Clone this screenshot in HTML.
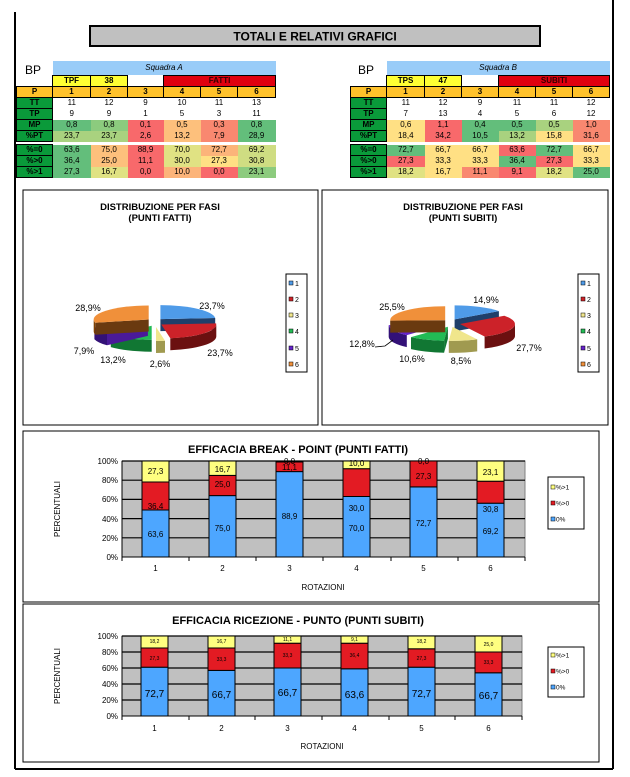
<!DOCTYPE html>
<html><head><meta charset="utf-8">
<style>
body{margin:0;background:#fff;}
#pg{position:relative;width:630px;height:777px;overflow:hidden;font-family:"Liberation Sans",sans-serif;}
table{position:absolute;border-collapse:collapse;table-layout:fixed;font-size:8px;}
td{padding:0;height:10px;line-height:10px;text-align:center;overflow:hidden;white-space:nowrap;}
td.l{background:#0a9a3a;border:1.5px solid #000;font-weight:bold;color:#000;}
td.p{background:#ffc22b;border:1.5px solid #000;font-weight:bold;}
td.y{background:#ffff33;border:1.5px solid #000;font-weight:bold;}
td.r{background:#e0000f;border:1.5px solid #000;font-weight:bold;color:#300;}
td.s{background:#99ccf8;font-style:italic;height:14px;}
.G{background:#63be7b}.g{background:#a9d27f}.lg{background:#cfdd82}.yg{background:#e0e283}.Y{background:#ffe084}.O{background:#fdc07c}.o{background:#fcb47a}.S{background:#f98870}.R{background:#f8696b}.gg{background:#8ccb7e}
.bp{position:absolute;font-size:12px;}
</style></head><body><div id="pg">
<svg width="630" height="777" style="position:absolute;left:0;top:0" font-family="Liberation Sans, sans-serif">
<!-- page border -->
<line x1="15" y1="12" x2="15" y2="769" stroke="#000" stroke-width="2"/>
<line x1="613" y1="0" x2="613" y2="769" stroke="#000" stroke-width="2"/>
<line x1="15" y1="769" x2="613" y2="769" stroke="#000" stroke-width="2"/>
<!-- title -->
<rect x="90" y="26" width="450" height="20" fill="#c0c0c0" stroke="#000" stroke-width="2"/>
<text x="315" y="40.5" font-size="12" font-weight="bold" text-anchor="middle">TOTALI E RELATIVI GRAFICI</text>

<!-- pie panels -->
<rect x="23" y="190" width="295" height="235" fill="#fff" stroke="#000" stroke-width="1"/>
<rect x="322" y="190" width="286" height="235" fill="#fff" stroke="#000" stroke-width="1"/>
<text x="160" y="210" font-size="9.5" font-weight="bold" text-anchor="middle">DISTRIBUZIONE PER FASI</text>
<text x="160" y="221" font-size="9.5" font-weight="bold" text-anchor="middle">(PUNTI FATTI)</text>
<text x="463" y="210" font-size="9.5" font-weight="bold" text-anchor="middle">DISTRIBUZIONE  PER FASI</text>
<text x="463" y="221" font-size="9.5" font-weight="bold" text-anchor="middle">(PUNTI SUBITI)</text>

<!-- left pie -->
<g transform="translate(155,322)">
 <g transform="translate(5.4,-2.9)"><path d="M0,0 L0,-14 L0,-2 L0,10 Z" fill="#1f3f6a"/><path d="M0,0 L54.8,-1.1 L54.8,10.9 L0,12Z" fill="#1f3f6a"/><path d="M0,0 L0,-14 A55,14 0 0 1 54.8,-1.1 Z" fill="#4f9be8"/></g>
 <g transform="translate(6.3,2.5)"><path d="M55,0 A55,14 0 0 1 9,13.8 L9,25.8 A55,14 0 0 0 55,12 Z" fill="#6b1010"/><path d="M0,0 L54.8,-1.1 A55,14 0 0 1 9,13.8 Z" fill="#cc2229"/></g>
 <g transform="translate(1,5)"><path d="M9,13.8 A55,14 0 0 1 0,14 L0,26 A55,14 0 0 0 9,25.8 Z" fill="#a09a50"/><path d="M0,0 L9,13.8 A55,14 0 0 1 0,14 Z" fill="#f0e68c"/><path d="M0,0 L0,14 L0,26 L0,12Z" fill="#c8c070"/></g>
 <g transform="translate(-3.3,3.7)"><path d="M0,14 A55,14 0 0 1 -40.9,9.4 L-40.9,21.4 A55,14 0 0 0 0,26 Z" fill="#117733"/><path d="M0,0 L0,14 A55,14 0 0 1 -40.9,9.4 Z" fill="#22bb55"/><path d="M0,0 L0,14 L0,26 L0,12 Z" fill="#117733"/></g>
 <g transform="translate(-7.1,1.9)"><path d="M-40.9,9.4 A55,14 0 0 1 -53.5,3.3 L-53.5,15.3 A55,14 0 0 0 -40.9,21.4 Z" fill="#331177"/><path d="M0,0 L-40.9,9.4 A55,14 0 0 1 -53.5,3.3 Z" fill="#6622cc"/><path d="M0,0 L-40.9,9.4 L-40.9,21.4 L0,12Z" fill="#4a1a99"/></g>
 <g transform="translate(-6.3,-2.5)"><path d="M-53.5,3.3 A55,14 0 0 1 -55,0 L-55,12 A55,14 0 0 0 -53.5,15.3 Z" fill="#804000"/><path d="M0,0 L-53.5,3.3 L-53.5,15.3 L0,12Z" fill="#6a3a10"/><path d="M0,0 L-53.5,3.3 A55,14 0 0 1 0,-14 Z" fill="#f0903a"/></g>
</g>
<g font-size="9" text-anchor="middle">
<text x="88" y="311">28,9%</text><text x="212" y="309">23,7%</text><text x="220" y="356">23,7%</text>
<text x="160" y="367">2,6%</text><text x="113" y="363">13,2%</text><text x="84" y="354">7,9%</text>
</g>
<!-- right pie -->
<g transform="translate(451,323)">
 <g transform="translate(3.6,-3.6)"><path d="M0,0 L44.3,-8.3 L44.3,3.7 L0,12Z" fill="#1f3f6a"/><path d="M0,0 L0,-14 A55,14 0 0 1 44.3,-8.3 Z" fill="#4f9be8"/></g>
 <g transform="translate(9,1)"><path d="M55,0 A55,14 0 0 1 24.6,12.5 L24.6,24.5 A55,14 0 0 0 55,12 Z" fill="#6b1010"/><path d="M0,0 L44.3,-8.3 A55,14 0 0 1 24.6,12.5 Z" fill="#cc2229"/></g>
 <g transform="translate(1.6,3.9)"><path d="M24.6,12.5 A55,14 0 0 1 -3.8,14 L-3.8,26 A55,14 0 0 0 24.6,24.5 Z" fill="#a09a50"/><path d="M0,0 L24.6,12.5 A55,14 0 0 1 -3.8,14 Z" fill="#f0e68c"/></g>
 <g transform="translate(-3.1,3.7)"><path d="M-3.8,14 A55,14 0 0 1 -36.9,10.4 L-36.9,22.4 A55,14 0 0 0 -3.8,26 Z" fill="#117733"/><path d="M0,0 L-3.8,14 A55,14 0 0 1 -36.9,10.4 Z" fill="#22bb55"/><path d="M0,0 L-3.8,14 L-3.8,26 L0,12Z" fill="#117733"/></g>
 <g transform="translate(-7.3,1.7)"><path d="M-36.9,10.4 A55,14 0 0 1 -55,0.4 L-55,12.4 A55,14 0 0 0 -36.9,22.4 Z" fill="#331177"/><path d="M0,0 L-36.9,10.4 A55,14 0 0 1 -55,0.4 Z" fill="#6622cc"/></g>
 <g transform="translate(-5.8,-2.8)"><path d="M0,0 L-55,0.4 L-55,12.4 L0,12Z" fill="#6a3a10"/><path d="M0,0 L-55,0.4 A55,14 0 0 1 0,-14 Z" fill="#f0903a"/></g>
</g>
<g font-size="9" text-anchor="middle">
<text x="486" y="303">14,9%</text><text x="392" y="310">25,5%</text><text x="362" y="347">12,8%</text>
<text x="412" y="362">10,6%</text><text x="461" y="364">8,5%</text><text x="529" y="351">27,7%</text>
</g>
<polyline points="375,347 385,346 393,340" fill="none" stroke="#000" stroke-width="0.8"/>
<!-- pie legends -->
<g font-size="7">
<rect x="286" y="274" width="21" height="98" fill="#fff" stroke="#000"/>
<rect x="289" y="281" width="4" height="4" fill="#4f9be8" stroke="#000" stroke-width=".5"/><text x="295" y="286">1</text>
<rect x="289" y="297" width="4" height="4" fill="#cc2229" stroke="#000" stroke-width=".5"/><text x="295" y="302">2</text>
<rect x="289" y="313" width="4" height="4" fill="#f0e68c" stroke="#000" stroke-width=".5"/><text x="295" y="318">3</text>
<rect x="289" y="329" width="4" height="4" fill="#22bb55" stroke="#000" stroke-width=".5"/><text x="295" y="334">4</text>
<rect x="289" y="346" width="4" height="4" fill="#6622cc" stroke="#000" stroke-width=".5"/><text x="295" y="351">5</text>
<rect x="289" y="362" width="4" height="4" fill="#f0903a" stroke="#000" stroke-width=".5"/><text x="295" y="367">6</text>
<rect x="578" y="274" width="21" height="98" fill="#fff" stroke="#000"/>
<rect x="581" y="281" width="4" height="4" fill="#4f9be8" stroke="#000" stroke-width=".5"/><text x="587" y="286">1</text>
<rect x="581" y="297" width="4" height="4" fill="#cc2229" stroke="#000" stroke-width=".5"/><text x="587" y="302">2</text>
<rect x="581" y="313" width="4" height="4" fill="#f0e68c" stroke="#000" stroke-width=".5"/><text x="587" y="318">3</text>
<rect x="581" y="329" width="4" height="4" fill="#22bb55" stroke="#000" stroke-width=".5"/><text x="587" y="334">4</text>
<rect x="581" y="346" width="4" height="4" fill="#6622cc" stroke="#000" stroke-width=".5"/><text x="587" y="351">5</text>
<rect x="581" y="362" width="4" height="4" fill="#f0903a" stroke="#000" stroke-width=".5"/><text x="587" y="367">6</text>
</g>

<!-- BAR CHART 1 -->
<rect x="23" y="431" width="576" height="171" fill="#fff" stroke="#000"/>
<text x="298" y="453" font-size="11" font-weight="bold" text-anchor="middle">EFFICACIA BREAK - POINT (PUNTI FATTI)</text>
<rect x="122" y="461" width="403" height="96" fill="#c0c0c0" stroke="#808080"/>
<g stroke="#000" stroke-width="1.2"><line x1="122" y1="461" x2="525" y2="461"/><line x1="122" y1="480.2" x2="525" y2="480.2"/><line x1="122" y1="499.4" x2="525" y2="499.4"/><line x1="122" y1="518.6" x2="525" y2="518.6"/><line x1="122" y1="537.8" x2="525" y2="537.8"/></g>
<line x1="122" y1="557" x2="525" y2="557" stroke="#000"/><line x1="122" y1="461" x2="122" y2="557" stroke="#000"/>
<g stroke="#000"><line x1="122" y1="557" x2="122" y2="561"/><line x1="189" y1="557" x2="189" y2="561"/><line x1="256" y1="557" x2="256" y2="561"/><line x1="323" y1="557" x2="323" y2="561"/><line x1="391" y1="557" x2="391" y2="561"/><line x1="458" y1="557" x2="458" y2="561"/><line x1="525" y1="557" x2="525" y2="561"/></g>
<g font-size="8" text-anchor="end"><text x="118" y="560">0%</text><text x="118" y="541">20%</text><text x="118" y="522">40%</text><text x="118" y="502">60%</text><text x="118" y="483">80%</text><text x="118" y="464">100%</text></g>
<text transform="translate(60,509) rotate(-90)" font-size="8" text-anchor="middle">PERCENTUALI</text>
<g stroke="#000" stroke-width="1">
<rect x="142" y="510" width="27" height="47" fill="#4da6ff"/><rect x="142" y="482" width="27" height="28" fill="#e31b23"/><rect x="142" y="461" width="27" height="21" fill="#ffff80"/>
<rect x="209" y="495.6" width="27" height="61.4" fill="#4da6ff"/><rect x="209" y="475.4" width="27" height="20.2" fill="#e31b23"/><rect x="209" y="461" width="27" height="14.4" fill="#ffff80"/>
<rect x="276" y="471.6" width="27" height="85.4" fill="#4da6ff"/><rect x="276" y="462" width="27" height="9.6" fill="#e31b23"/><rect x="276" y="461" width="27" height="1" fill="#ffff80"/>
<rect x="343" y="496.5" width="27" height="60.5" fill="#4da6ff"/><rect x="343" y="468.7" width="27" height="27.8" fill="#e31b23"/><rect x="343" y="461" width="27" height="7.7" fill="#ffff80"/>
<rect x="410" y="486.9" width="27" height="70.1" fill="#4da6ff"/><rect x="410" y="461" width="27" height="25.9" fill="#e31b23"/>
<rect x="477" y="503.2" width="27" height="53.8" fill="#4da6ff"/><rect x="477" y="481.2" width="27" height="22" fill="#e31b23"/><rect x="477" y="461" width="27" height="20.2" fill="#ffff80"/>
</g>
<g font-size="8" text-anchor="middle">
<text x="155.5" y="474">27,3</text><text x="155.5" y="509">36,4</text><text x="155.5" y="537">63,6</text>
<text x="222.5" y="472">16,7</text><text x="222.5" y="487">25,0</text><text x="222.5" y="531">75,0</text>
<text x="289.5" y="464">0,0</text><text x="289.5" y="470">11,1</text><text x="289.5" y="519">88,9</text>
<text x="356.5" y="466">10,0</text><text x="356.5" y="511">30,0</text><text x="356.5" y="531">70,0</text>
<text x="423.5" y="464">0,0</text><text x="423.5" y="479">27,3</text><text x="423.5" y="526">72,7</text>
<text x="490.5" y="475">23,1</text><text x="490.5" y="512">30,8</text><text x="490.5" y="534">69,2</text>
</g>
<g font-size="8" text-anchor="middle"><text x="155.5" y="571">1</text><text x="222.5" y="571">2</text><text x="289.5" y="571">3</text><text x="356.5" y="571">4</text><text x="423.5" y="571">5</text><text x="490.5" y="571">6</text></g>
<text x="323" y="590" font-size="8" text-anchor="middle">ROTAZIONI</text>
<rect x="548" y="477" width="36" height="52" fill="#fff" stroke="#000"/>
<g font-size="6.5"><rect x="551" y="485" width="4" height="4" fill="#ffff80" stroke="#000" stroke-width=".5"/><text x="556" y="489.5">%&gt;1</text>
<rect x="551" y="501" width="4" height="4" fill="#e31b23" stroke="#000" stroke-width=".5"/><text x="556" y="505.5">%&gt;0</text>
<rect x="551" y="517" width="4" height="4" fill="#4da6ff" stroke="#000" stroke-width=".5"/><text x="556" y="521.5">0%</text></g>

<!-- BAR CHART 2 -->
<rect x="23" y="604" width="576" height="158" fill="#fff" stroke="#000"/>
<text x="298" y="624" font-size="11" font-weight="bold" text-anchor="middle">EFFICACIA RICEZIONE - PUNTO (PUNTI SUBITI)</text>
<rect x="122" y="636" width="400" height="80" fill="#c0c0c0" stroke="#808080"/>
<g stroke="#000" stroke-width="1.2"><line x1="122" y1="636" x2="522" y2="636"/><line x1="122" y1="652" x2="522" y2="652"/><line x1="122" y1="668" x2="522" y2="668"/><line x1="122" y1="684" x2="522" y2="684"/><line x1="122" y1="700" x2="522" y2="700"/></g>
<line x1="122" y1="716" x2="522" y2="716" stroke="#000"/><line x1="122" y1="636" x2="122" y2="716" stroke="#000"/>
<g stroke="#000"><line x1="122" y1="716" x2="122" y2="720"/><line x1="189" y1="716" x2="189" y2="720"/><line x1="255" y1="716" x2="255" y2="720"/><line x1="322" y1="716" x2="322" y2="720"/><line x1="389" y1="716" x2="389" y2="720"/><line x1="455" y1="716" x2="455" y2="720"/><line x1="522" y1="716" x2="522" y2="720"/></g>
<g font-size="8" text-anchor="end"><text x="118" y="719">0%</text><text x="118" y="703">20%</text><text x="118" y="687">40%</text><text x="118" y="671">60%</text><text x="118" y="655">80%</text><text x="118" y="639">100%</text></g>
<text transform="translate(60,676) rotate(-90)" font-size="8" text-anchor="middle">PERCENTUALI</text>
<g stroke="#000" stroke-width="1">
<rect x="141" y="667.2" width="27" height="48.8" fill="#4da6ff"/><rect x="141" y="648" width="27" height="19.2" fill="#e31b23"/><rect x="141" y="636" width="27" height="12" fill="#ffff80"/>
<rect x="208" y="670.4" width="27" height="45.6" fill="#4da6ff"/><rect x="208" y="648" width="27" height="22.4" fill="#e31b23"/><rect x="208" y="636" width="27" height="12" fill="#ffff80"/>
<rect x="274" y="668" width="27" height="48" fill="#4da6ff"/><rect x="274" y="643.2" width="27" height="24.8" fill="#e31b23"/><rect x="274" y="636" width="27" height="7.2" fill="#ffff80"/>
<rect x="341" y="668.8" width="27" height="47.2" fill="#4da6ff"/><rect x="341" y="643.2" width="27" height="25.6" fill="#e31b23"/><rect x="341" y="636" width="27" height="7.2" fill="#ffff80"/>
<rect x="408" y="667.2" width="27" height="48.8" fill="#4da6ff"/><rect x="408" y="648.8" width="27" height="18.4" fill="#e31b23"/><rect x="408" y="636" width="27" height="12.8" fill="#ffff80"/>
<rect x="475" y="672.8" width="27" height="43.2" fill="#4da6ff"/><rect x="475" y="652" width="27" height="20.8" fill="#e31b23"/><rect x="475" y="636" width="27" height="16" fill="#ffff80"/>
</g>
<g font-size="5" text-anchor="middle">
<text x="154.5" y="643">18,2</text><text x="154.5" y="660">27,3</text>
<text x="221.5" y="643">16,7</text><text x="221.5" y="661">33,3</text>
<text x="287.5" y="641">11,1</text><text x="287.5" y="657">33,3</text>
<text x="354.5" y="641">9,1</text><text x="354.5" y="657">36,4</text>
<text x="421.5" y="643">18,2</text><text x="421.5" y="660">27,3</text>
<text x="488.5" y="646">25,0</text><text x="488.5" y="664">33,3</text>
</g>
<g font-size="10" text-anchor="middle">
<text x="154.5" y="697">72,7</text><text x="221.5" y="698">66,7</text><text x="287.5" y="696">66,7</text><text x="354.5" y="698">63,6</text><text x="421.5" y="697">72,7</text><text x="488.5" y="699">66,7</text>
</g>
<g font-size="8" text-anchor="middle"><text x="154.5" y="731">1</text><text x="221.5" y="731">2</text><text x="287.5" y="731">3</text><text x="354.5" y="731">4</text><text x="421.5" y="731">5</text><text x="488.5" y="731">6</text></g>
<text x="322" y="749" font-size="8" text-anchor="middle">ROTAZIONI</text>
<rect x="548" y="647" width="36" height="50" fill="#fff" stroke="#000"/>
<g font-size="6.5"><rect x="551" y="653" width="4" height="4" fill="#ffff80" stroke="#000" stroke-width=".5"/><text x="556" y="657.5">%&gt;1</text>
<rect x="551" y="669" width="4" height="4" fill="#e31b23" stroke="#000" stroke-width=".5"/><text x="556" y="673.5">%&gt;0</text>
<rect x="551" y="685" width="4" height="4" fill="#4da6ff" stroke="#000" stroke-width=".5"/><text x="556" y="689.5">0%</text></g>
</svg>

<div class="bp" style="left:25px;top:63px">BP</div>
<table style="left:16px;top:61px;width:259px">
<col style="width:36px"><col style="width:38px"><col style="width:37px"><col style="width:36px"><col style="width:37px"><col style="width:37px"><col style="width:38px">
<tr><td style="background:transparent;height:14px"></td><td class="s" colspan="6">Squadra A</td></tr>
<tr><td></td><td class="y">TPF</td><td class="y">38</td><td></td><td class="r" colspan="3">FATTI</td></tr>
<tr><td class="p">P</td><td class="p">1</td><td class="p">2</td><td class="p">3</td><td class="p">4</td><td class="p">5</td><td class="p">6</td></tr>
<tr><td class="l">TT</td><td>11</td><td>12</td><td>9</td><td>10</td><td>11</td><td>13</td></tr>
<tr><td class="l">TP</td><td>9</td><td>9</td><td>1</td><td>5</td><td>3</td><td>11</td></tr>
<tr><td class="l">MP</td><td class="G">0,8</td><td class="gg">0,8</td><td class="R">0,1</td><td class="O">0,5</td><td class="S">0,3</td><td class="G">0,8</td></tr>
<tr><td class="l">%PT</td><td class="g">23,7</td><td class="g">23,7</td><td class="R">2,6</td><td class="O">13,2</td><td class="S">7,9</td><td class="G">28,9</td></tr>
<tr><td style="height:2px"></td></tr>
<tr><td class="l">%=0</td><td class="G">63,6</td><td class="O">75,0</td><td class="R">88,9</td><td class="yg">70,0</td><td class="o">72,7</td><td class="lg">69,2</td></tr>
<tr><td class="l">%&gt;0</td><td class="G">36,4</td><td class="O">25,0</td><td class="R">11,1</td><td class="yg">30,0</td><td class="Y">27,3</td><td class="lg">30,8</td></tr>
<tr><td class="l">%&gt;1</td><td class="G">27,3</td><td class="yg">16,7</td><td class="R">0,0</td><td class="o">10,0</td><td class="R">0,0</td><td class="gg">23,1</td></tr>
</table>

<div class="bp" style="left:358px;top:63px">BP</div>
<table style="left:350px;top:61px;width:259px">
<col style="width:36px"><col style="width:38px"><col style="width:37px"><col style="width:37px"><col style="width:37px"><col style="width:37px"><col style="width:37px">
<tr><td style="background:transparent;height:14px"></td><td class="s" colspan="6">Squadra B</td></tr>
<tr><td></td><td class="y">TPS</td><td class="y">47</td><td></td><td class="r" colspan="3">SUBITI</td></tr>
<tr><td class="p">P</td><td class="p">1</td><td class="p">2</td><td class="p">3</td><td class="p">4</td><td class="p">5</td><td class="p">6</td></tr>
<tr><td class="l">TT</td><td>11</td><td>12</td><td>9</td><td>11</td><td>11</td><td>12</td></tr>
<tr><td class="l">TP</td><td>7</td><td>13</td><td>4</td><td>5</td><td>6</td><td>12</td></tr>
<tr><td class="l">MP</td><td class="Y">0,6</td><td class="R">1,1</td><td class="G">0,4</td><td class="G">0,5</td><td class="g">0,5</td><td class="S">1,0</td></tr>
<tr><td class="l">%PT</td><td class="Y">18,4</td><td class="R">34,2</td><td class="G">10,5</td><td class="g">13,2</td><td class="Y">15,8</td><td class="S">31,6</td></tr>
<tr><td style="height:2px"></td></tr>
<tr><td class="l">%=0</td><td class="G">72,7</td><td class="Y">66,7</td><td class="Y">66,7</td><td class="R">63,6</td><td class="G">72,7</td><td class="Y">66,7</td></tr>
<tr><td class="l">%&gt;0</td><td class="R">27,3</td><td class="Y">33,3</td><td class="Y">33,3</td><td class="G">36,4</td><td class="R">27,3</td><td class="Y">33,3</td></tr>
<tr><td class="l">%&gt;1</td><td class="yg">18,2</td><td class="Y">16,7</td><td class="S">11,1</td><td class="R">9,1</td><td class="yg">18,2</td><td class="G">25,0</td></tr>
</table>
</div></body></html>
